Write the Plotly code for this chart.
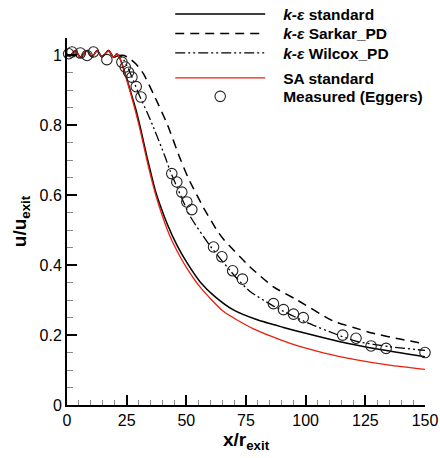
import plotly.graph_objects as go

# ---------------- data ----------------
plateau_x = [0, 1.4, 3.5, 5.6, 8.4, 10.5, 12.6, 14.6, 17.4, 19.5]
plateau_y = [1.0, 1.0, 1.014, 0.995, 1.014, 0.996, 1.014, 0.996, 1.014, 0.995]

ke_std_x = plateau_x + [20.9, 22.3, 24.4, 26.5, 28.6, 30.7, 33.5, 35, 37, 39, 42, 46, 50, 55.8, 62, 69.7, 80, 90.7, 100, 114.4, 130, 150]
ke_std_y = plateau_y + [1.005, 0.99, 0.948, 0.9, 0.852, 0.795, 0.71, 0.668, 0.614, 0.572, 0.518, 0.458, 0.41, 0.352, 0.31, 0.272, 0.243, 0.222, 0.205, 0.181, 0.16, 0.138]

sarkar_x = plateau_x + [22, 24, 26.5, 29, 32, 36.2, 41.9, 47.4, 50.9, 57, 62.8, 65.5, 76.7, 86.5, 96, 111.6, 120, 128.3, 140, 150]
sarkar_y = plateau_y + [1.0, 1.0, 0.99, 0.975, 0.948, 0.89, 0.805, 0.705, 0.648, 0.567, 0.5, 0.475, 0.395, 0.338, 0.302, 0.24, 0.222, 0.205, 0.188, 0.175]

wilcox_x = plateau_x + [22, 24, 26, 28, 30.7, 33.5, 36.2, 41.1, 43.2, 46, 51.6, 60, 71.2, 76.7, 86.5, 100.5, 114.4, 121.4, 135, 150]
wilcox_y = plateau_y + [1.0, 0.985, 0.958, 0.925, 0.88, 0.838, 0.795, 0.71, 0.67, 0.625, 0.54, 0.455, 0.362, 0.325, 0.283, 0.236, 0.198, 0.182, 0.167, 0.156]

sa_x = plateau_x + [20.9, 22.3, 24.4, 26.5, 28.6, 30.7, 33.5, 37, 40, 43.2, 47.4, 50, 55.8, 65.5, 78.1, 93.5, 107, 121.4, 135, 150]
sa_y = plateau_y + [1.005, 0.99, 0.945, 0.895, 0.843, 0.785, 0.70, 0.605, 0.54, 0.482, 0.424, 0.394, 0.337, 0.268, 0.218, 0.176, 0.15, 0.129, 0.114, 0.102]

meas_x = [0.7, 2.1, 5.6, 8.4, 11.1, 16.7, 23.0, 24.4, 25.8, 27.2, 29.0, 31.0, 43.9, 46.0, 48.1, 50.2, 52.3,
          61.4, 64.9, 69.4, 73.5, 86.5, 90.7, 94.9, 99.0, 115.5, 121.1, 127.4, 133.7, 150.0]
meas_y = [1.005, 1.01, 1.007, 1.0, 1.01, 0.988, 0.981, 0.967, 0.952, 0.938, 0.911, 0.881, 0.662, 0.638, 0.609, 0.581, 0.559,
          0.452, 0.424, 0.384, 0.36, 0.29, 0.273, 0.26, 0.25, 0.2, 0.191, 0.169, 0.162, 0.15]

x_ticks = [0, 25, 50, 75, 100, 125, 150]
y_ticks = [0, 0.2, 0.4, 0.6, 0.8, 1.0]
y_tick_labels = ["0", "0.2", "0.4", "0.6", "0.8", "1"]

PAD = "\u00a0\u00a0\u00a0"
names = [PAD + "<b><i>k-ε</i> standard</b>", PAD + "<b><i>k-ε</i> Sarkar_PD</b>", PAD + "<b><i>k-ε</i> Wilcox_PD</b>",
         PAD + "<b>SA standard</b>", PAD + "<b>Measured (Eggers)</b>"]
legend_rows_px = [14, 33.5, 53, 78, 96.5]

# ---------------- figure ----------------
W, H = 440, 458
ML, MR, MT, MB = 66.7, 15, 37.7, 53
PW, PH = W - ML - MR, H - MT - MB
FONT = "Liberation Sans, Arial, Helvetica, sans-serif"
fig = go.Figure()

spline = dict(shape="spline", smoothing=0.6)
fig.add_trace(go.Scatter(x=ke_std_x, y=ke_std_y, mode="lines", name=names[0], legend="legend",
                         line=dict(color="black", width=1.5, **spline)))
fig.add_trace(go.Scatter(x=sarkar_x, y=sarkar_y, mode="lines", name=names[1], legend="legend2",
                         line=dict(color="black", width=1.5, dash="9px,6px", **spline)))
fig.add_trace(go.Scatter(x=wilcox_x, y=wilcox_y, mode="lines", name=names[2], legend="legend3",
                         line=dict(color="black", width=1.3, dash="10px,3px,2px,3px,2px,3px", **spline)))
fig.add_trace(go.Scatter(x=sa_x, y=sa_y, mode="lines", name=names[3], legend="legend4",
                         line=dict(color="#e8200c", width=1.3, **spline)))
fig.add_trace(go.Scatter(x=meas_x, y=meas_y, mode="markers", name=names[4], legend="legend5",
                         cliponaxis=False,
                         marker=dict(symbol="circle-open", size=10.5, color="#222",
                                     line=dict(width=1.1, color="#222"))))

leg_common = dict(xref="paper", yref="paper", x=(170 - ML) / PW, xanchor="left", yanchor="middle",
                  font=dict(family=FONT, size=15.5, color="black"), bgcolor="rgba(0,0,0,0)",
                  itemwidth=90, borderwidth=0)
legends = {}
for i, key in enumerate(["legend", "legend2", "legend3", "legend4", "legend5"]):
    legends[key] = dict(leg_common, y=(H - MB - legend_rows_px[i]) / PH)

axis_common = dict(showgrid=False, zeroline=False, showline=True, linecolor="black", linewidth=2,
                   ticks="inside", ticklen=10, tickwidth=1.5, tickcolor="black",
                   tickfont=dict(family=FONT, size=16, color="black"), automargin=False)

fig.update_layout(
    width=W, height=H,
    margin=dict(l=ML, r=MR, t=MT, b=MB, autoexpand=False),
    paper_bgcolor="white", plot_bgcolor="white",
    font=dict(family=FONT, color="black"),
    xaxis=dict(axis_common, range=[0, 150], tickvals=x_ticks,
               minor=dict(ticks="inside", ticklen=5, tickwidth=1, tickcolor="#888", dtick=5, tick0=0),
               title=dict(text="<b>x/r<sub>exit</sub></b>", font=dict(family=FONT, size=19), standoff=4)),
    yaxis=dict(axis_common, range=[0, 1.05], tickvals=y_ticks, ticktext=y_tick_labels,
               minor=dict(ticks="inside", ticklen=6, tickwidth=1, tickcolor="#888", dtick=0.05, tick0=0),
               title=dict(text="<b>u/u<sub>exit</sub></b>", font=dict(family=FONT, size=19), standoff=8)),
    showlegend=True,
    **legends,
)

fig.write_html("out.html")
